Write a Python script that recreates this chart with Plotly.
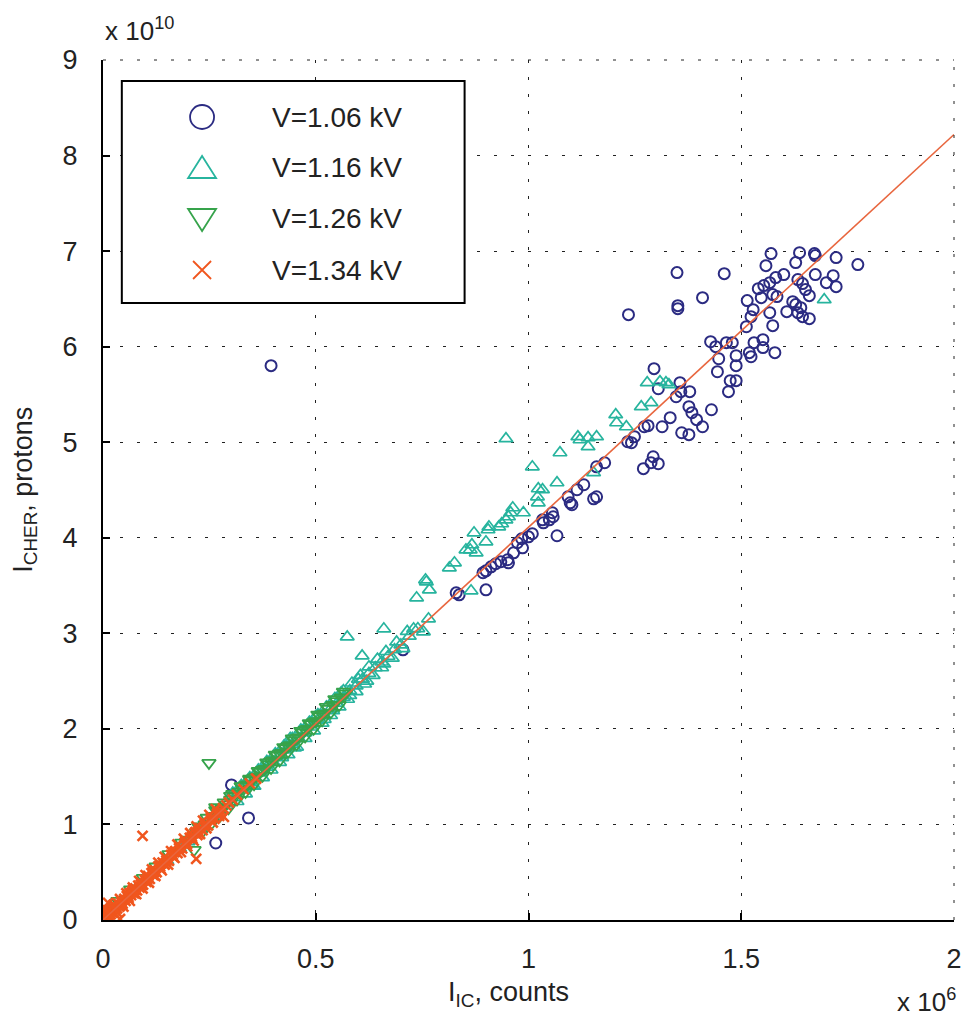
import plotly.graph_objects as go

# ---- data (x in units of 1e6 counts, y in units of 1e10 protons) ----
series_names = ["V=1.06 kV", "V=1.16 kV", "V=1.26 kV", "V=1.34 kV"]

v106_x = [1.570, 1.637, 1.672, 1.674, 1.723, 1.774, 1.558, 1.628, 1.460, 1.581, 1.600, 1.674, 1.716,
          1.700, 1.723, 1.633, 1.644, 1.651, 1.660, 1.540, 1.553, 1.567, 1.547, 1.574, 1.584, 1.514,
          1.409, 1.528, 1.567, 1.523, 1.621, 1.628, 1.640, 1.607, 1.633, 1.644, 1.660, 1.512, 1.574,
          1.428, 1.440, 1.465, 1.479, 1.530, 1.551, 1.551, 1.579, 1.519, 1.523, 1.488, 1.447, 1.488,
          1.444, 1.474, 1.488, 1.470,
          1.235, 1.351, 1.351, 1.349, 1.295, 1.356, 1.347, 1.358, 1.379, 1.305, 1.377, 1.384, 1.395,
          1.409, 1.430, 1.333, 1.314, 1.360, 1.377, 1.272, 1.281, 1.249, 1.233, 1.242, 1.293, 1.288,
          1.305, 1.270, 1.179, 1.160, 1.130, 1.114, 1.093, 1.160, 1.098, 1.102, 1.153, 1.056, 1.058,
          1.049, 1.033, 1.035, 1.067, 1.009, 1.000, 0.984, 0.974, 0.986, 0.965, 0.951, 0.935, 0.923,
          0.912, 0.953, 0.900, 0.893, 0.830, 0.837, 0.900, 0.705, 0.395, 0.302, 0.342, 0.265]
v106_y = [6.974, 6.984, 6.974, 6.953, 6.932, 6.859, 6.848, 6.880, 6.764, 6.723, 6.754, 6.754, 6.743,
          6.670, 6.628, 6.702, 6.660, 6.597, 6.534, 6.607, 6.639, 6.670, 6.513, 6.545, 6.524, 6.482,
          6.513, 6.387, 6.356, 6.314, 6.471, 6.440, 6.408, 6.366, 6.356, 6.314, 6.293, 6.209, 6.220,
          6.052, 6.000, 6.042, 6.042, 6.042, 6.073, 5.990, 5.937, 5.937, 5.895, 5.906, 5.874, 5.801,
          5.738, 5.644, 5.644, 5.529,
          6.335, 6.429, 6.398, 6.775, 5.770, 5.623, 5.476, 5.529, 5.529, 5.560, 5.372, 5.309, 5.236,
          5.162, 5.340, 5.257, 5.162, 5.099, 5.079, 5.162, 5.173, 5.058, 5.005, 4.995, 4.848, 4.785,
          4.775, 4.723, 4.785, 4.743, 4.555, 4.503, 4.429, 4.429, 4.366, 4.346, 4.408, 4.262, 4.220,
          4.188, 4.188, 4.157, 4.021, 4.042, 4.010, 3.990, 3.948, 3.895, 3.843, 3.770, 3.749, 3.728,
          3.696, 3.738, 3.654, 3.634, 3.424, 3.403, 3.455, 2.827, 5.801, 1.414, 1.068, 0.806]

v116_x = [1.695, 1.279, 1.309, 1.323, 1.330, 1.265, 1.288, 1.205, 1.207, 1.230, 1.116, 1.121,
          1.140, 1.140, 1.160, 1.074, 1.153, 1.067, 0.947, 1.009, 1.023, 1.033, 1.021, 1.023,
          0.963, 0.958, 0.953, 0.947, 0.937, 0.930, 0.988, 0.907, 0.872, 0.900, 0.905, 0.867,
          0.863, 0.853, 0.877, 0.826, 0.814, 0.758, 0.865, 0.760, 0.767, 0.737, 0.660, 0.574,
          0.730, 0.753, 0.765, 0.609,
          0.150, 0.180, 0.200, 0.230, 0.260, 0.290, 0.310, 0.330, 0.350, 0.370, 0.385, 0.400,
          0.415, 0.430, 0.445, 0.460, 0.475, 0.490, 0.505, 0.520, 0.535, 0.550, 0.565, 0.580,
          0.595, 0.610, 0.625, 0.640, 0.655, 0.670, 0.685, 0.700, 0.720, 0.740,
          0.450, 0.520, 0.580, 0.620, 0.350, 0.440, 0.500, 0.560, 0.600, 0.420, 0.540, 0.660,
          0.305, 0.325, 0.345, 0.365, 0.385, 0.405, 0.425, 0.445, 0.465, 0.485, 0.505, 0.525,
          0.545, 0.565, 0.585, 0.605, 0.625, 0.645, 0.665, 0.690, 0.715,
          0.315, 0.335, 0.355, 0.375, 0.395, 0.415, 0.435, 0.455, 0.475, 0.495, 0.515, 0.535,
          0.555, 0.575, 0.595, 0.615, 0.635, 0.655, 0.680, 0.705]
v116_y = [6.492, 5.623, 5.634, 5.623, 5.602, 5.372, 5.414, 5.288, 5.204, 5.162, 5.058, 5.026,
          5.047, 4.953, 5.058, 4.890, 4.681, 4.576, 5.037, 4.743, 4.513, 4.503, 4.429, 4.366,
          4.314, 4.262, 4.220, 4.188, 4.147, 4.115, 4.262, 4.115, 4.052, 3.958, 4.084, 3.927,
          3.874, 3.874, 3.843, 3.738, 3.686, 3.560, 3.445, 3.539, 3.455, 3.372, 3.047, 2.963,
          3.047, 3.016, 3.152, 2.764,
          0.620, 0.750, 0.820, 0.950, 1.070, 1.200, 1.280, 1.380, 1.440, 1.540, 1.600, 1.650,
          1.720, 1.780, 1.840, 1.900, 1.960, 2.020, 2.090, 2.140, 2.210, 2.270, 2.330, 2.400,
          2.450, 2.520, 2.580, 2.640, 2.700, 2.760, 2.830, 2.880, 2.970, 3.050,
          1.800, 2.100, 2.350, 2.500, 1.400, 1.900, 2.130, 2.380, 2.520, 1.700, 2.190, 2.680,
          1.330, 1.410, 1.490, 1.570, 1.660, 1.740, 1.820, 1.900, 1.990, 2.070, 2.150, 2.230,
          2.320, 2.400, 2.480, 2.560, 2.650, 2.730, 2.810, 2.910, 3.020,
          1.240, 1.320, 1.400, 1.490, 1.570, 1.650, 1.730, 1.810, 1.900, 1.980, 2.060, 2.140,
          2.230, 2.310, 2.390, 2.470, 2.560, 2.640, 2.740, 2.840]

v126_x = [0.000, 0.003, 0.006, 0.020, 0.050, 0.080, 0.110, 0.140, 0.170, 0.200, 0.220, 0.240,
          0.260, 0.270, 0.280, 0.290, 0.300, 0.310, 0.320, 0.330, 0.335, 0.340, 0.350, 0.355,
          0.360, 0.370, 0.375, 0.380, 0.390, 0.395, 0.400, 0.410, 0.415, 0.420, 0.430, 0.435,
          0.440, 0.450, 0.455, 0.460, 0.470, 0.475, 0.480, 0.490, 0.495, 0.500, 0.510, 0.515,
          0.520, 0.530, 0.540, 0.550, 0.560, 0.570, 0.249, 0.214, 0.265, 0.300, 0.325, 0.345,
          0.225, 0.245, 0.265, 0.285, 0.305, 0.325, 0.345, 0.365, 0.385, 0.405, 0.425, 0.445,
          0.465, 0.485, 0.505, 0.525, 0.545, 0.565,
          0.235, 0.255, 0.275, 0.295, 0.315, 0.335, 0.355, 0.375, 0.395, 0.415, 0.435, 0.455,
          0.475, 0.495, 0.515, 0.535, 0.555,
          0.010, 0.035, 0.065, 0.095, 0.125, 0.155, 0.185]
v126_y = [0.000, 0.010, 0.030, 0.080, 0.210, 0.330, 0.450, 0.580, 0.710, 0.840, 0.920, 1.000,
          1.090, 1.140, 1.170, 1.210, 1.260, 1.290, 1.340, 1.370, 1.410, 1.420, 1.460, 1.490,
          1.500, 1.550, 1.570, 1.580, 1.630, 1.660, 1.670, 1.720, 1.740, 1.750, 1.800, 1.820,
          1.830, 1.880, 1.900, 1.910, 1.960, 1.990, 2.000, 2.050, 2.070, 2.080, 2.130, 2.150,
          2.160, 2.210, 2.250, 2.290, 2.330, 2.370, 1.644, 0.733, 1.180, 1.300, 1.400, 1.470,
          0.980, 1.070, 1.150, 1.230, 1.320, 1.400, 1.480, 1.560, 1.650, 1.730, 1.810, 1.900,
          1.980, 2.060, 2.150, 2.230, 2.310, 2.390,
          0.930, 1.010, 1.090, 1.170, 1.260, 1.340, 1.420, 1.510, 1.590, 1.670, 1.760, 1.840,
          1.920, 2.000, 2.090, 2.170, 2.250,
          0.090, 0.200, 0.320, 0.440, 0.560, 0.690, 0.810]

v134_x = [0.002, 0.004, 0.006, 0.008, 0.010, 0.012, 0.015, 0.018, 0.020, 0.022, 0.025, 0.028,
          0.030, 0.033, 0.036, 0.040, 0.043, 0.046, 0.050, 0.053, 0.056, 0.060, 0.063, 0.066,
          0.070, 0.073, 0.076, 0.080, 0.083, 0.086, 0.090, 0.094, 0.098, 0.102, 0.106, 0.110,
          0.114, 0.118, 0.122, 0.126, 0.130, 0.135, 0.140, 0.145, 0.150, 0.155, 0.160, 0.165,
          0.170, 0.175, 0.180, 0.186, 0.192, 0.198, 0.204, 0.210, 0.216, 0.222, 0.228, 0.234,
          0.240, 0.247, 0.254, 0.262, 0.270, 0.278, 0.290, 0.305, 0.330, 0.360,
          0.038, 0.068, 0.092, 0.117, 0.143, 0.168, 0.193, 0.218, 0.243, 0.268,
          0.010, 0.025, 0.040, 0.055, 0.070, 0.085, 0.100, 0.115, 0.130, 0.145, 0.160, 0.175,
          0.190, 0.205, 0.220, 0.235, 0.250, 0.265,
          0.018, 0.033, 0.048, 0.063, 0.078, 0.093, 0.108, 0.123, 0.138, 0.153, 0.168, 0.183,
          0.198, 0.213, 0.228, 0.243, 0.258, 0.273,
          0.014, 0.029, 0.044, 0.059, 0.074, 0.089, 0.104, 0.119, 0.134, 0.149, 0.164, 0.179,
          0.194, 0.209, 0.224, 0.239, 0.254, 0.269, 0.282, 0.296, 0.315, 0.345,
          0.093, 0.219, 0.284, 0.012, 0.040, 0.005]
v134_y = [0.020, 0.000, 0.040, 0.020, 0.060, 0.030, 0.070, 0.060, 0.100, 0.080, 0.120, 0.100,
          0.140, 0.120, 0.170, 0.150, 0.200, 0.170, 0.220, 0.200, 0.250, 0.230, 0.280, 0.260,
          0.310, 0.280, 0.330, 0.310, 0.360, 0.340, 0.390, 0.370, 0.420, 0.400, 0.460, 0.430,
          0.490, 0.470, 0.520, 0.500, 0.560, 0.540, 0.600, 0.580, 0.640, 0.620, 0.680, 0.660,
          0.720, 0.700, 0.760, 0.750, 0.810, 0.800, 0.860, 0.850, 0.910, 0.890, 0.960, 0.940,
          1.010, 0.990, 1.070, 1.060, 1.130, 1.140, 1.200, 1.260, 1.370, 1.480,
          0.140, 0.290, 0.370, 0.500, 0.590, 0.710, 0.790, 0.920, 1.000, 1.110,
          0.100, 0.160, 0.220, 0.280, 0.340, 0.410, 0.470, 0.530, 0.600, 0.660, 0.720, 0.790,
          0.850, 0.910, 0.980, 1.040, 1.100, 1.160,
          0.020, 0.080, 0.140, 0.200, 0.270, 0.330, 0.390, 0.460, 0.520, 0.580, 0.650, 0.710,
          0.770, 0.830, 0.900, 0.960, 1.020, 1.090,
          0.060, 0.120, 0.180, 0.250, 0.310, 0.370, 0.430, 0.500, 0.560, 0.620, 0.680, 0.750,
          0.810, 0.870, 0.930, 1.000, 1.060, 1.120, 1.170, 1.230, 1.310, 1.430,
          0.880, 0.640, 1.080, 0.180, 0.010, 0.120]

fit_x = [0.0, 2.0]
fit_y = [0.0, 8.22]

x_ticks = [0, 0.5, 1, 1.5, 2]
x_tick_text = ["0", "0.5", "1", "1.5", "2"]
y_ticks = [0, 1, 2, 3, 4, 5, 6, 7, 8, 9]

# ---- style ----
FONT = "Liberation Sans, Arial, sans-serif"
C_BLUE = "#2b2b82"
C_TEAL = "#27b49e"
C_GREEN = "#36a34b"
C_RED = "#f0561e"
C_LINE = "#e8663e"
C_TEXT = "#222222"

# page offset of the plot div (default body margin) and geometry
OX, OY = 8, 8
W, H = 966, 1013
L, R, T, B = 95, 12, 52, 101
PW, PH = W - L - R, H - T - B


def px(xp):
    """page pixel x -> paper fraction"""
    return (xp - OX - L) / PW


def py(yp):
    """page pixel y -> paper fraction"""
    return (H - B - (yp - OY)) / PH


fig = go.Figure()
fig.add_trace(go.Scatter(x=v106_x, y=v106_y, mode="markers", name=series_names[0],
                         marker=dict(symbol="circle-open", size=11, color=C_BLUE,
                                     line=dict(width=2.0, color=C_BLUE))))
fig.add_trace(go.Scatter(x=v116_x, y=v116_y, mode="markers", name=series_names[1],
                         marker=dict(symbol="triangle-up-open", size=12, color=C_TEAL,
                                     line=dict(width=1.7, color=C_TEAL))))
fig.add_trace(go.Scatter(x=v126_x, y=v126_y, mode="markers", name=series_names[2],
                         marker=dict(symbol="triangle-down-open", size=12, color=C_GREEN,
                                     line=dict(width=1.8, color=C_GREEN))))
fig.add_trace(go.Scatter(x=v134_x, y=v134_y, mode="markers", name=series_names[3],
                         marker=dict(symbol="x-thin", size=10, color=C_RED,
                                     line=dict(width=2.6, color=C_RED))))
fig.add_trace(go.Scatter(x=fit_x, y=fit_y, mode="lines", name="fit", hoverinfo="skip",
                         line=dict(color=C_LINE, width=1.6)))

axis_common = dict(showgrid=True, gridcolor=C_TEXT, gridwidth=1, griddash="3px,14px",
                   showline=True, linecolor="black", linewidth=2, mirror=False,
                   ticks="inside", ticklen=7, tickwidth=1.5, tickcolor="black",
                   zeroline=False, tickfont=dict(family=FONT, size=27, color=C_TEXT))
fig.update_xaxes(range=[0, 2], tickvals=x_ticks, ticktext=x_tick_text,
                 ticklabelstandoff=14, **axis_common)
fig.update_yaxes(range=[0, 9], tickvals=y_ticks, ticklabelstandoff=18, **axis_common)

shapes = []
# dotted grid lines along the top and right edges
shapes.append(dict(type="line", xref="paper", yref="paper", x0=0, x1=1, y0=1, y1=1,
                   line=dict(color=C_TEXT, width=1, dash="3px,14px")))
shapes.append(dict(type="line", xref="paper", yref="paper", x0=1, x1=1, y0=0, y1=1,
                   line=dict(color=C_TEXT, width=1, dash="3px,14px")))
# legend box
shapes.append(dict(type="rect", xref="paper", yref="paper", x0=px(122), x1=px(468), y0=py(303), y1=py(81),
                   line=dict(color="black", width=2), fillcolor="white", layer="above"))

rows_y = [117, 168, 219, 270]
mx = 203
lw = 1.8
# legend symbols (pixel-sized shapes)
shapes.append(dict(type="circle", xref="paper", yref="paper", xsizemode="pixel", ysizemode="pixel",
                   xanchor=px(mx), yanchor=py(rows_y[0]), x0=-12, x1=12, y0=-12, y1=12,
                   line=dict(color=C_BLUE, width=lw), layer="above"))
shapes.append(dict(type="path", xref="paper", yref="paper", xsizemode="pixel", ysizemode="pixel",
                   xanchor=px(mx), yanchor=py(rows_y[1]), path="M -14,-10 L 14,-10 L 0,12 Z",
                   line=dict(color=C_TEAL, width=lw), layer="above"))
shapes.append(dict(type="path", xref="paper", yref="paper", xsizemode="pixel", ysizemode="pixel",
                   xanchor=px(mx), yanchor=py(rows_y[2]), path="M -14,10 L 14,10 L 0,-12 Z",
                   line=dict(color=C_GREEN, width=lw), layer="above"))
shapes.append(dict(type="path", xref="paper", yref="paper", xsizemode="pixel", ysizemode="pixel",
                   xanchor=px(mx), yanchor=py(rows_y[3]), path="M -9,-9 L 9,9 M -9,9 L 9,-9",
                   line=dict(color=C_RED, width=lw), layer="above"))

annotations = []
for name, ry in zip(series_names, rows_y):
    annotations.append(dict(text=name, xref="paper", yref="paper", x=px(272), y=py(ry),
                            xanchor="left", yanchor="middle", showarrow=False,
                            font=dict(family=FONT, size=28, color=C_TEXT)))

annotations.append(dict(text="x 10<sup>10</sup>", xref="paper", yref="paper", x=px(103), y=py(30),
                        xanchor="left", yanchor="middle", showarrow=False,
                        font=dict(family=FONT, size=26, color=C_TEXT)))
annotations.append(dict(text="x 10<sup>6</sup>", xref="paper", yref="paper", x=px(966), y=py(1000),
                        xanchor="right", yanchor="middle", showarrow=False,
                        font=dict(family=FONT, size=26, color=C_TEXT)))
annotations.append(dict(text="I<sub>IC</sub>, counts", xref="paper", yref="paper", x=px(512), y=py(994),
                        xanchor="center", yanchor="middle", showarrow=False,
                        font=dict(family=FONT, size=27, color=C_TEXT)))
annotations.append(dict(text="I<sub>CHER</sub>, protons", xref="paper", yref="paper", x=px(24), y=py(490),
                        xanchor="center", yanchor="middle", showarrow=False, textangle=-90,
                        font=dict(family=FONT, size=27, color=C_TEXT)))

fig.update_layout(width=W, height=H, margin=dict(l=L, r=R, t=T, b=B),
                  plot_bgcolor="white", paper_bgcolor="white",
                  shapes=shapes, annotations=annotations, showlegend=False,
                  font=dict(family=FONT))

fig.write_html("out.html")
